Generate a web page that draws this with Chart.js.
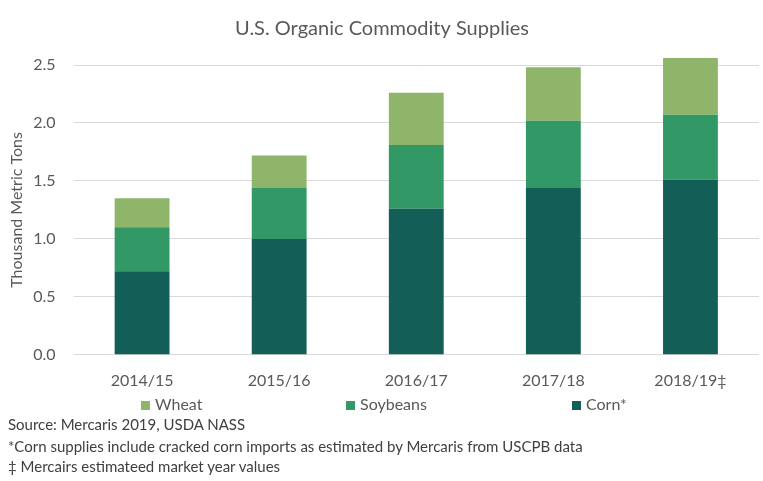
<!DOCTYPE html>
<html>
<head>
<meta charset="utf-8">
<script src="https://cdn.jsdelivr.net/npm/chart.js@4"></script>
<style>
  html, body { margin: 0; padding: 0; background: #fff; }
  #wrap { position: relative; width: 763px; height: 481px; font-family: Lato, "Open Sans", sans-serif; color: #595959; }
  .note { position: absolute; left: 8px; font-size: 15px; white-space: nowrap; color: #404040; }
  .legend-item { position: absolute; top: 394px; font-size: 16px; line-height: 20px; white-space: nowrap; }
  .legend-item span { display: inline-block; width: 9px; height: 9px; margin-right: 5px; }
</style>
</head>
<body>
<div id="wrap">
  <canvas id="supplyChart" width="763" height="481"></canvas>
  <div id="legend"></div>
  <div class="note" style="top: 415px;">Source: Mercaris 2019, USDA NASS</div>
  <div class="note" style="top: 437px;">*Corn supplies include cracked corn imports as estimated by Mercaris from USCPB data</div>
  <div class="note" style="top: 457px;">‡ Mercairs estimateed market year values</div>
</div>
<script>
const years = ["2014/15", "2015/16", "2016/17", "2017/18", "2018/19‡"];
const corn = [0.72, 1.0, 1.26, 1.44, 1.51];
const soybeans = [0.38, 0.44, 0.55, 0.58, 0.56];
const wheat = [0.25, 0.28, 0.45, 0.46, 0.49];

const color = {
  wheat: "#8fb56a",
  soybeans: "#329966",
  corn: "#135e56"
};

const textColor = "#595959";

function makeDataset(label, data, bg) {
  return {
    label: label,
    data: data,
    backgroundColor: bg,
    barPercentage: 0.8,
    categoryPercentage: 0.5,
    clip: false
  };
}

const ctx = document.getElementById("supplyChart").getContext("2d");
const chart = new Chart(ctx, {
  type: "bar",
  data: {
    labels: years,
    datasets: [
      makeDataset("Corn*", corn, color.corn),
      makeDataset("Soybeans", soybeans, color.soybeans),
      makeDataset("Wheat", wheat, color.wheat)
    ]
  },
  options: {
    responsive: false,
    animation: false,
    layout: { padding: { left: 5, right: 4, top: 8, bottom: 83 } },
    plugins: {
      title: {
        display: true,
        text: "U.S. Organic Commodity Supplies",
        color: textColor,
        font: { family: "Lato", size: 20, weight: "normal" },
        padding: { top: 9, bottom: 24 }
      },
      legend: { display: false },
      tooltip: { enabled: false }
    },
    scales: {
      x: {
        stacked: true,
        grid: { display: false },
        border: { display: false },
        ticks: { color: textColor, font: { family: "Lato", size: 16 }, padding: 8 }
      },
      y: {
        stacked: true,
        min: 0,
        max: 2.5,
        border: { display: false },
        // invisible tick marks keep the label gap without extra space on the left
        grid: { color: "#d9d9d9", tickLength: 14, tickColor: "transparent" },
        ticks: {
          stepSize: 0.5,
          autoSkip: false,
          color: textColor,
          font: { family: "Lato", size: 16 },
          padding: 4,
          callback: v => v.toFixed(1)
        },
        title: {
          display: true,
          text: "Thousand Metric Tons",
          color: textColor,
          font: { family: "Lato", size: 16 },
          padding: 2.5
        }
      }
    }
  }
});

// legend in reverse dataset order, like the original
const legendLeft = [141, 346, 572];
const legendEl = document.getElementById("legend");
chart.data.datasets.slice().reverse().forEach((ds, i) => {
  const item = document.createElement("div");
  item.className = "legend-item";
  item.style.left = legendLeft[i] + "px";
  item.innerHTML = '<span style="background:' + ds.backgroundColor + '"></span>' + ds.label;
  legendEl.appendChild(item);
});
</script>
</body>
</html>
